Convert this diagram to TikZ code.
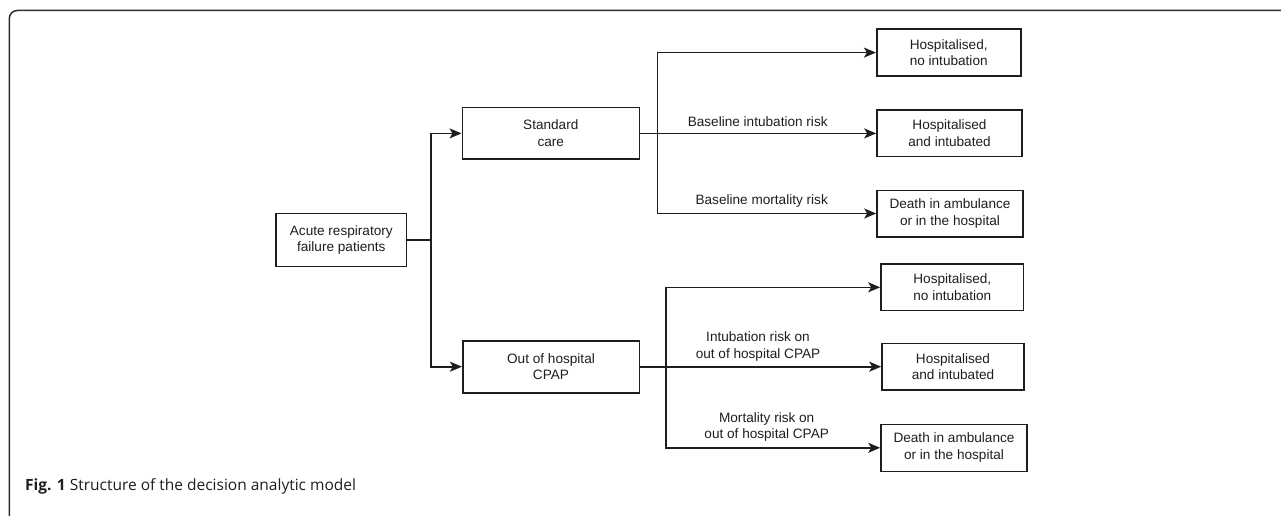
\documentclass[tikz,border=0pt]{standalone}
\usepackage{fontspec}
\setmainfont{Liberation Sans}
\newfontfamily\capfont{Open Sans}
\usetikzlibrary{arrows.meta}
\definecolor{ink}{HTML}{1E1E1E}
\definecolor{frame}{HTML}{2E2E2E}
\begin{document}
\begin{tikzpicture}[x=1pt,y=-1pt,
  box/.style={draw=ink, line width=1.6pt, align=center, inner sep=0pt, text=ink,
    font=\fontsize{13.6}{16.7}\selectfont},
  lab/.style={align=center, inner sep=0pt, text=ink, font=\fontsize{13.6}{16.7}\selectfont},
  conn/.style={draw=ink, line width=1.6pt},
  arr/.style={conn, -{Stealth[length=12pt,width=10pt,inset=3pt]}}]
\useasboundingbox (0,0) rectangle (1281,516);
% frame
\draw[frame, line width=1.5pt, rounded corners=8pt] (1283,10.5) -- (9.3,10.5) -- (9.3,518);
% nodes
\node[box, minimum width=130.7pt, minimum height=53pt] (A) at (341.3,240) {Acute respiratory\\failure patients};
\node[box, minimum width=177pt, minimum height=51.6pt] (SC) at (550.8,133.4) {Standard\\care};
\node[box, minimum width=176.6pt, minimum height=52pt] (OC) at (551,366.7) {Out of hospital\\CPAP};
\node[box, minimum width=144pt, minimum height=46.7pt] (R1) at (948.7,52.6) {Hospitalised,\\no intubation};
\node[box, minimum width=145pt, minimum height=46.3pt] (R2) at (949.5,133.4) {Hospitalised\\and intubated};
\node[box, minimum width=146pt, minimum height=46.4pt] (R3) at (950,213.5) {Death in ambulance\\or in the hospital};
\node[box, minimum width=142.7pt, minimum height=46.7pt] (L1) at (952.3,287.3) {Hospitalised,\\no intubation};
\node[box, minimum width=142pt, minimum height=46.4pt] (L2) at (953,366.7) {Hospitalised\\and intubated};
\node[box, minimum width=146pt, minimum height=47pt] (L3) at (954,447.8) {Death in ambulance\\or in the hospital};
% branch points
\coordinate (t0) at (431,240);
\coordinate (b1) at (657.3,133.4);
\coordinate (b2) at (666,366.7);
% connectors
\draw[conn] (A.east) -- (t0);
\draw[arr] (t0) |- (SC.west);
\draw[arr] (t0) |- (OC.west);
\draw[arr] (SC.east) -- (R2.west);
\draw[arr] (b1) |- (R1.west);
\draw[arr] (b1) |- (R3.west);
\draw[arr] (OC.east) -- (L2.west);
\draw[arr] (b2) |- (L1.west);
\draw[arr] (b2) |- (L3.west);
% labels
\node[lab] (l1) at (757.7,121.5) {Baseline intubation risk};
\node[lab] (l2) at (761.7,201) {Baseline mortality risk};
\node[lab] (l3) at (758,346.5) {Intubation risk on\\out of hospital CPAP};
\node[lab] (l4) at (766.7,427) {Mortality risk on\\out of hospital CPAP};
% caption
\node[anchor=base west, inner sep=0pt, text=ink, font=\capfont\fontsize{15.5}{18}\selectfont] (cap) at (25,490) {\textbf{Fig. 1} Structure of the decision analytic model};
\end{tikzpicture}
\end{document}
